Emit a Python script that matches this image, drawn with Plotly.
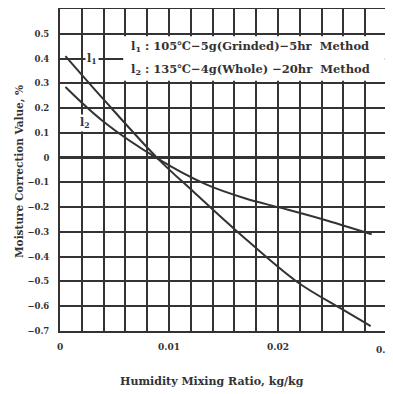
import plotly.graph_objects as go

# Data
l1_x = [0.0005, 0.0039, 0.0090, 0.0122, 0.0163, 0.0217, 0.0258, 0.0285]
l1_y = [0.41, 0.24, -0.005, -0.136, -0.30, -0.50, -0.61, -0.68]
l2_x = [0.0005, 0.0040, 0.0090, 0.0134, 0.0171, 0.0200, 0.0240, 0.0286]
l2_y = [0.285, 0.145, -0.005, -0.108, -0.166, -0.20, -0.248, -0.31]

x_ticks = [0, 0.01, 0.02]
x_tick_labels = ["0", "0.01", "0.02"]
x_last_tick = 0.03
x_last_label = "0.03"
y_ticks = [0.5, 0.4, 0.3, 0.2, 0.1, 0, -0.1, -0.2, -0.3, -0.4, -0.5, -0.6, -0.7]
y_tick_labels = ["0.5", "0.4", "0.3", "0.2", "0.1", "0", "−0.1", "−0.2", "−0.3",
                 "−0.4", "−0.5", "−0.6", "−0.7"]

legend_l1 = "l<sub>1</sub> : 105℃−5g(Grinded)−5hr  Method"
legend_l2 = "l<sub>2</sub> : 135℃−4g(Whole) −20hr  Method"
x_title = "Humidity Mixing Ratio, kg/kg"
y_title = "Moisture Correction Value, %"

INK = "#333333"
FONT = "DejaVu Serif"

fig = go.Figure()
fig.add_trace(go.Scatter(x=l1_x, y=l1_y, mode="lines", line=dict(color=INK, width=2, shape="spline"),
                         showlegend=False))
fig.add_trace(go.Scatter(x=l2_x, y=l2_y, mode="lines", line=dict(color=INK, width=2, shape="spline"),
                         showlegend=False))

# page body has an 8px margin: size/margins compensate for it
fig.update_layout(
    width=385, height=386,
    margin=dict(l=52, r=6, t=1, b=63),
    paper_bgcolor="white", plot_bgcolor="white",
    font=dict(family=FONT, color=INK),
    xaxis=dict(range=[0, 0.03], tickvals=x_ticks, ticktext=x_tick_labels,
               showgrid=True, gridcolor=INK, gridwidth=2,
               minor=dict(dtick=0.002, showgrid=True, gridcolor=INK, gridwidth=2, ticks=""),
               showline=True, linecolor=INK, linewidth=2, mirror=True,
               zeroline=False, ticks="", ticklabelstandoff=6, automargin=False,
               tickfont=dict(size=9, family=FONT, weight="bold")),
    yaxis=dict(range=[-0.7, 0.6], tickvals=y_ticks, ticktext=y_tick_labels,
               showgrid=True, gridcolor=INK, gridwidth=2,
               showline=True, linecolor=INK, linewidth=2, mirror=True,
               zeroline=True, zerolinecolor=INK, zerolinewidth=3,
               ticks="", ticklabelstandoff=7, automargin=False,
               tickfont=dict(size=8.5, family=FONT, weight="bold")),
)

# last x tick label (partly beyond the page edge, as in the original scan)
fig.add_annotation(x=x_last_tick, y=0, xref="x", yref="paper", yshift=-19, yanchor="middle",
                   xanchor="center", text=x_last_label, showarrow=False,
                   font=dict(size=9, family=FONT, weight="bold", color=INK))

# axis titles
fig.add_annotation(x=0.5, y=0, xref="paper", yref="paper", xshift=-12, yshift=-50,
                   xanchor="center", yanchor="middle", text=x_title, showarrow=False,
                   font=dict(size=11, family=FONT, weight="bold", color=INK))
fig.add_annotation(x=0, y=0.5, xref="paper", yref="paper", xshift=-41, yshift=-2,
                   xanchor="center", yanchor="middle", text=y_title,
                   textangle=-90, showarrow=False,
                   font=dict(size=10.5, family=FONT, weight="bold", color=INK))

# legend box (covers grid)
fig.add_shape(type="rect", xref="x", yref="y", x0=0.0058, x1=0.0298, y0=0.31, y1=0.49,
              fillcolor="white", line=dict(width=0), layer="above")
fig.add_annotation(x=0.0063, y=0.45, xref="x", yref="y", text=legend_l1, showarrow=False,
                   xanchor="left", font=dict(size=11.5, family=FONT, weight="bold", color=INK))
fig.add_annotation(x=0.0063, y=0.355, xref="x", yref="y", text=legend_l2, showarrow=False,
                   xanchor="left", font=dict(size=11.5, family=FONT, weight="bold", color=INK))
# curve labels
fig.add_annotation(x=0.0029, y=0.40, xref="x", yref="y", text="l<sub>1</sub>", showarrow=False,
                   bgcolor="white", font=dict(size=11, family=FONT, weight="bold", color=INK))
fig.add_annotation(x=0.0023, y=0.14, xref="x", yref="y", text="l<sub>2</sub>", showarrow=False,
                   bgcolor="white", font=dict(size=11, family=FONT, weight="bold", color=INK))

fig.write_html("out.html")
